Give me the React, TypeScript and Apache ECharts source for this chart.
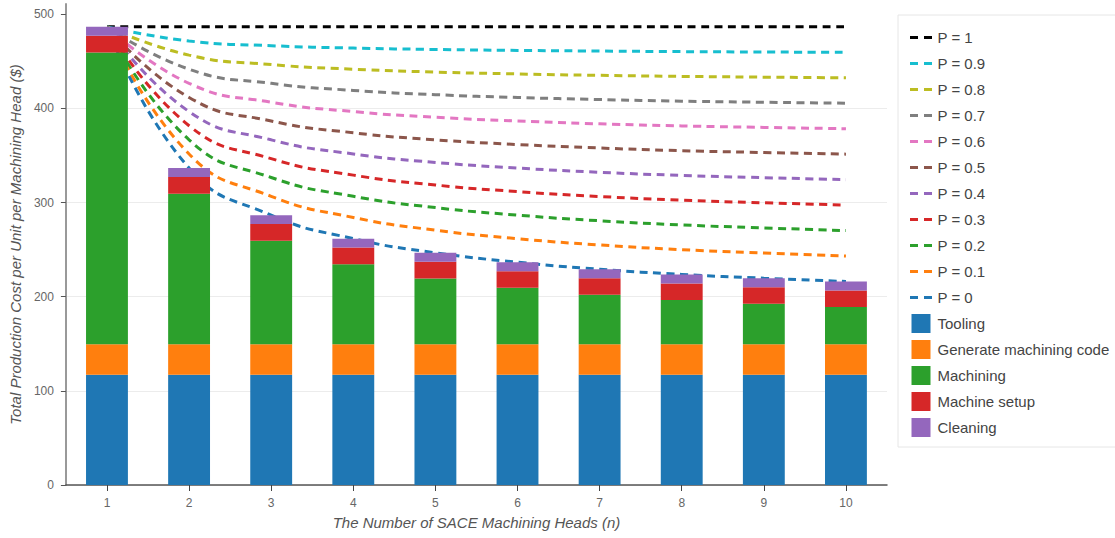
import React, { useEffect, useRef } from "react";
import * as echarts from "echarts";

// Number of SACE machining heads (n)
const categories = ["1", "2", "3", "4", "5", "6", "7", "8", "9", "10"];

// Cost components per unit per machining head ($)
const tooling = [117, 117, 117, 117, 117, 117, 117, 117, 117, 117];
const generateCode = [32.5, 32.5, 32.5, 32.5, 32.5, 32.5, 32.5, 32.5, 32.5, 32.5];
const machining = [310, 160, 110, 85, 70, 60, 52.5, 47, 43, 39.5];
const machineSetup = [17.7, 17.7, 17.7, 17.7, 17.7, 17.7, 17.7, 17.7, 17.7, 17.7];
const cleaning = [9.5, 9.5, 9.5, 9.5, 9.5, 9.5, 9.5, 9.5, 9.5, 9.5];

// Total cost curves for each probability P
const p10 = [486.7, 486.7, 486.7, 486.7, 486.7, 486.7, 486.7, 486.7, 486.7, 486.7];
const p09 = [486.7, 471.7, 466.7, 464.2, 462.7, 461.7, 461, 460.4, 460, 459.6];
const p08 = [486.7, 456.7, 446.7, 441.7, 438.7, 436.7, 435.2, 434.1, 433.3, 432.6];
const p07 = [486.7, 441.7, 426.7, 419.2, 414.7, 411.7, 409.5, 407.8, 406.6, 405.6];
const p06 = [486.7, 426.7, 406.7, 396.7, 390.7, 386.7, 383.7, 381.5, 379.9, 378.5];
const p05 = [486.7, 411.7, 386.7, 374.2, 366.7, 361.7, 358, 355.2, 353.2, 351.5];
const p04 = [486.7, 396.7, 366.7, 351.7, 342.7, 336.7, 332.2, 328.9, 326.5, 324.4];
const p03 = [486.7, 381.7, 346.7, 329.2, 318.7, 311.7, 306.5, 302.6, 299.8, 297.4];
const p02 = [486.7, 366.7, 326.7, 306.7, 294.7, 286.7, 280.7, 276.3, 273.1, 270.3];
const p01 = [486.7, 351.7, 306.7, 284.2, 270.7, 261.7, 255, 250, 246.4, 243.3];
const p00 = [486.7, 336.7, 286.7, 261.7, 246.7, 236.7, 229.2, 223.7, 219.7, 216.2];

const yTicks = [0, 100, 200, 300, 400, 500];

const lineDefs: { name: string; data: number[]; color: string }[] = [
  { name: "P = 1", data: p10, color: "#000000" },
  { name: "P = 0.9", data: p09, color: "#17becf" },
  { name: "P = 0.8", data: p08, color: "#bcbd22" },
  { name: "P = 0.7", data: p07, color: "#7f7f7f" },
  { name: "P = 0.6", data: p06, color: "#e377c2" },
  { name: "P = 0.5", data: p05, color: "#8c564b" },
  { name: "P = 0.4", data: p04, color: "#9467bd" },
  { name: "P = 0.3", data: p03, color: "#d62728" },
  { name: "P = 0.2", data: p02, color: "#2ca02c" },
  { name: "P = 0.1", data: p01, color: "#ff7f0e" },
  { name: "P = 0", data: p00, color: "#1f77b4" },
];

const barDefs: { name: string; data: number[]; color: string }[] = [
  { name: "Tooling", data: tooling, color: "#1f77b4" },
  { name: "Generate machining code", data: generateCode, color: "#ff7f0e" },
  { name: "Machining", data: machining, color: "#2ca02c" },
  { name: "Machine setup", data: machineSetup, color: "#d62728" },
  { name: "Cleaning", data: cleaning, color: "#9467bd" },
];

// Legend icons: a filled square for bars, two short dashes for lines
// (the lone move points keep the dash icon as tall as the squares)
const SQUARE_ICON = "path://M0,0L10,0L10,10L0,10Z";
const DASH_ICON =
  "path://M0,0L0,0M22,19L22,19M0,8L8,8L8,11L0,11ZM14,8L22,8L22,11L14,11Z";

export default function App() {
  const ref = useRef<HTMLDivElement>(null);

  useEffect(() => {
    if (!ref.current) return;
    const chart = echarts.init(ref.current, undefined, { renderer: "svg" });

    const lineSeries = lineDefs.map((d) => ({
      name: d.name,
      type: "line",
      data: d.data,
      smooth: true,
      symbol: "none",
      showSymbol: false,
      z: 1,
      color: d.color,
      itemStyle: { color: d.color },
      lineStyle: { color: d.color, width: 3, type: [8, 5.5] },
    }));

    const barSeries = barDefs.map((d) => ({
      name: d.name,
      type: "bar",
      stack: "cost",
      data: d.data,
      barWidth: "51%",
      z: 3,
      color: d.color,
      itemStyle: { color: d.color },
    }));

    chart.setOption({
      animation: false,
      textStyle: { fontFamily: "'Liberation Sans', Arial, sans-serif" },
      grid: { left: 62, right: 228, top: 4, bottom: 53, containLabel: false },
      legend: {
        orient: "vertical",
        left: 898,
        top: 15,
        padding: [13, 12, 10, 12],
        itemWidth: 23,
        itemHeight: 19,
        itemGap: 7,
        borderColor: "#e6e6e6",
        borderWidth: 1,
        selectedMode: false,
        itemStyle: { borderWidth: 0 },
        textStyle: { fontSize: 15, color: "#444" },
        data: [
          ...lineDefs.map((d) => ({ name: d.name, icon: DASH_ICON })),
          ...barDefs.map((d) => ({ name: d.name, icon: SQUARE_ICON })),
        ],
      },
      xAxis: {
        type: "category",
        data: categories,
        name: "The Number of SACE Machining Heads (n)",
        nameLocation: "middle",
        nameGap: 30,
        nameTextStyle: { fontSize: 15, fontStyle: "italic", color: "#555" },
        axisLine: { show: true, lineStyle: { color: "#555", width: 1.5 } },
        axisTick: { show: true, alignWithLabel: true, length: 6, lineStyle: { color: "#444" } },
        axisLabel: { fontSize: 12, color: "#666", margin: 12 },
        splitLine: { show: false },
      },
      yAxis: {
        type: "value",
        min: 0,
        max: 511,
        interval: 100,
        name: "Total Production Cost per Unit per Machining Head ($)",
        nameLocation: "middle",
        nameGap: 37,
        nameTextStyle: { fontSize: 15, fontStyle: "italic", color: "#555" },
        axisLine: { show: true, lineStyle: { color: "#999", width: 2 } },
        axisTick: {
          show: true,
          length: 5,
          customValues: yTicks,
          lineStyle: { color: "#555" },
        },
        axisLabel: { fontSize: 12, color: "#666", margin: 12, customValues: yTicks },
        splitLine: { show: true, showMaxLine: false, lineStyle: { color: "#ececec", width: 1 } },
      },
      series: [...lineSeries, ...barSeries],
    });

    return () => chart.dispose();
  }, []);

  return (
    <div
      ref={ref}
      style={{ position: "fixed", left: 0, top: 0, width: 1115, height: 538, background: "#fff" }}
    />
  );
}
